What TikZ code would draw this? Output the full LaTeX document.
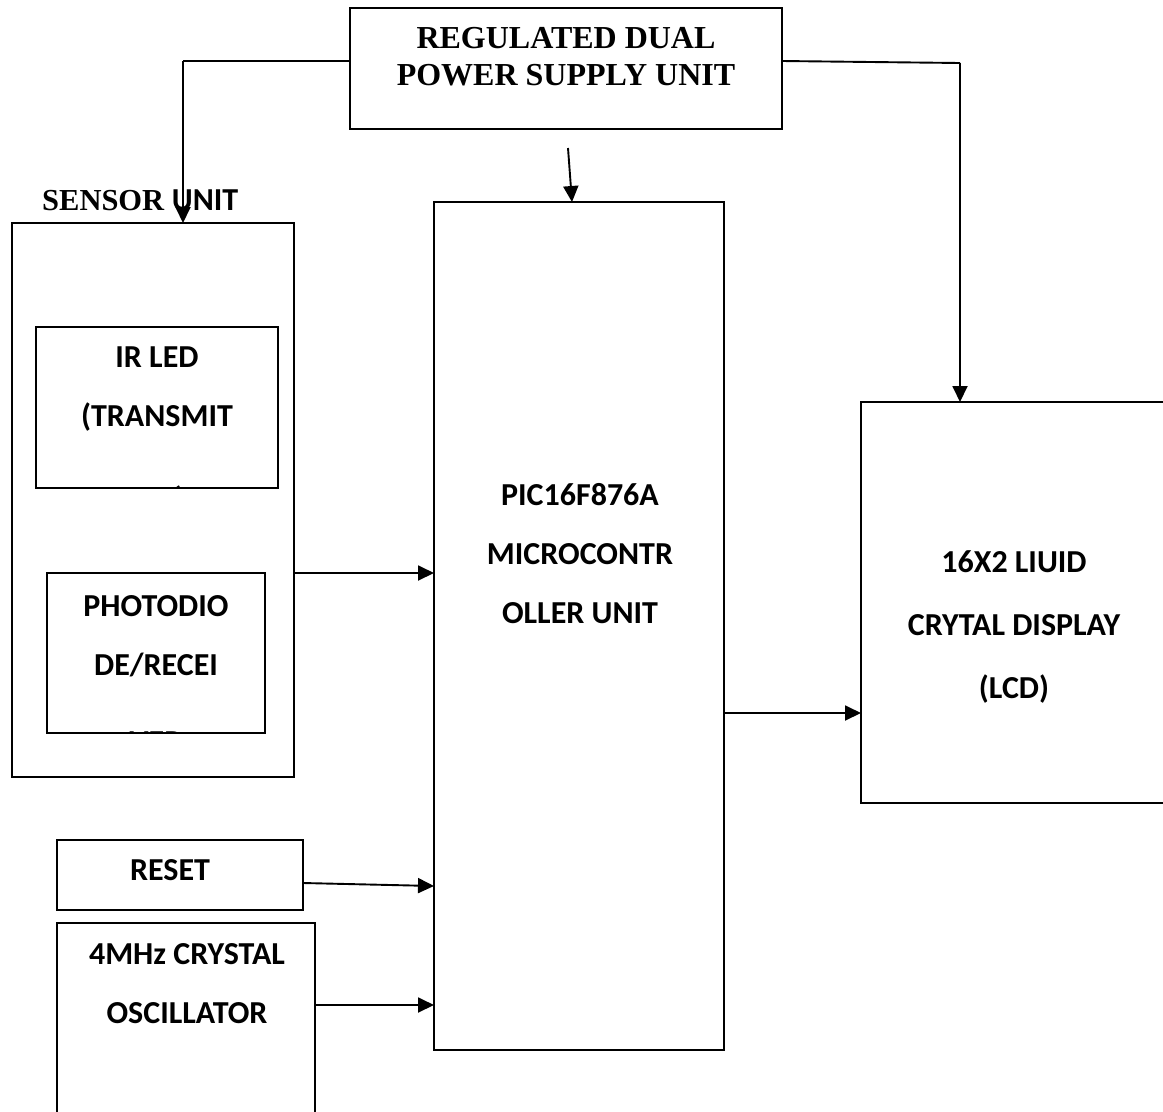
\documentclass[tikz,border=0pt]{standalone}
\usepackage{fontspec}
\setmainfont{Liberation Serif}
\newfontfamily\calfont{Carlito}
\usetikzlibrary{arrows.meta,calc}
\begin{document}
\begin{tikzpicture}[x=1pt,y=-1pt,
 box/.style={draw,line width=1.9pt,inner sep=0pt,outer sep=0pt,anchor=north west},
 conn/.style={line width=1.9pt,-{Triangle[length=16pt,width=15pt]}},
 wire/.style={line width=1.9pt},
 ctext/.style={font=\calfont\bfseries\fontsize{32}{59}\selectfont,align=center,inner sep=0pt},
 stext/.style={font=\bfseries\fontsize{32}{37}\selectfont,align=center,inner sep=0pt}]
\useasboundingbox (0,0) rectangle (1163,1112);

% boxes
\node[box,minimum width=432pt,minimum height=121pt] (psu) at (350,8) {};
\node[box,minimum width=282pt,minimum height=554pt] (sensor) at (12,223) {};
\node[box,minimum width=242pt,minimum height=161pt] (irled) at (36,327) {};
\node[box,minimum width=218pt,minimum height=160pt] (photo) at (47,573) {};
\node[box,minimum width=290pt,minimum height=848pt] (pic) at (434,202) {};
\node[box,minimum width=320pt,minimum height=401pt] (lcd) at (861,402) {};
\node[box,minimum width=246pt,minimum height=70pt] (reset) at (57,840) {};
\node[box,minimum width=258pt,minimum height=210pt] (osc) at (57,923) {};

% texts
\node[stext] (psutxt) at (566,57) {REGULATED DUAL\\POWER SUPPLY UNIT};
\node[inner sep=0pt,anchor=base west] (senslbl) at (42,210) {\bfseries\fontsize{30.5}{34}\selectfont SENSOR {\calfont\fontsize{32}{34}\selectfont UNIT}};
\node[ctext] (irtxt) at (157,389) {IR LED\\(TRANSMIT};
\node[ctext] (phtxt) at (156,636) {PHOTODIO\\DE/RECEI};
\begin{scope}
\clip (36,327) rectangle (278,487);
\node[ctext] (irclip) at (180,500) {)};
\end{scope}
\begin{scope}
\clip (47,573) rectangle (265,732);
\node[ctext] (phclip) at (156,742) {VER};
\end{scope}
\node[ctext] (pictxt) at (580,554) {PIC16F876A\\MICROCONTR\\OLLER UNIT};
\node[ctext,font=\calfont\bfseries\fontsize{32}{63}\selectfont] (lcdtxt) at (1014,627) {16X2 LIUID\\CRYTAL DISPLAY\\(LCD)};
\node[ctext] (resettxt) at (170,870) {RESET};
\node[ctext] (osctxt) at (187,984) {4MHz CRYSTAL\\OSCILLATOR};

% connectors
\coordinate (lcorner) at (183,61);
\coordinate (rcorner) at (960,63);
\draw[wire] (psu.west |- lcorner) -- (lcorner);
\draw[conn] (lcorner) -- (lcorner |- sensor.north);
\draw[wire] (psu.east |- 0,61) -- (rcorner);
\draw[conn] (rcorner) -- (rcorner |- lcd.north);
\coordinate (picin) at (568,148);
\draw[conn] (picin) -- ($(pic.north west)+(138,0)$);
\draw[conn] (sensor.east |- 0,573) -- (pic.west |- 0,573);
\draw[conn] (pic.east |- 0,713) -- (lcd.west |- 0,713);
\draw[conn] (reset.east |- 0,883) -- (pic.west |- 0,886);
\draw[conn] (osc.east |- 0,1005) -- (pic.west |- 0,1005);
\end{tikzpicture}
\end{document}
